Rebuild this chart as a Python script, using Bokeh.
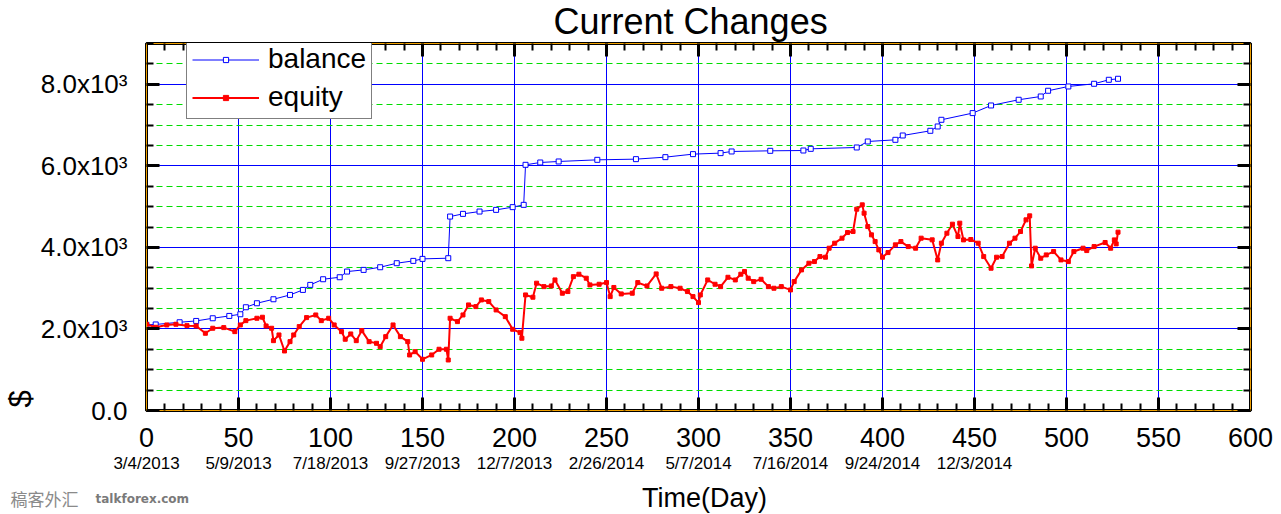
import numpy as np
from bokeh.plotting import figure
from bokeh.layouts import column
from bokeh.models import (ColumnDataSource, FixedTicker, LinearAxis, Range1d, Label,
                          Legend, LegendItem, Title, Div)
from bokeh.embed import file_html
from bokeh.resources import INLINE

# ---------------- data ----------------
balance_day = [0, 5, 18, 27, 36, 45, 51, 54, 60, 69, 78, 85, 89, 96, 105, 109, 118, 127, 136,
               145, 150, 164, 165, 172, 181, 190, 199, 205, 206, 214, 224, 245, 266, 282, 297,
               312, 318, 339, 357, 361, 386, 392, 407, 411, 426, 430, 432, 449, 459, 474, 486,
               490, 501, 515, 523, 528]
balance_val = [2100, 2110, 2164, 2196, 2262, 2319, 2360, 2532, 2630, 2728, 2834, 2957, 3080, 3219,
               3268, 3407, 3448, 3513, 3612, 3669, 3718, 3735, 4756, 4822, 4879, 4920, 4987, 5043,
               6025, 6082, 6107, 6147, 6164, 6213, 6287, 6312, 6352, 6368, 6376, 6417, 6450, 6597,
               6638, 6744, 6859, 6965, 7129, 7293, 7480, 7620, 7701, 7841, 7946, 8012, 8110, 8135]

equity_day = [0, 5, 11, 16, 22, 27, 32, 36, 42, 48, 51, 54, 60, 63, 65, 68, 69, 72, 75, 78, 80,
              83, 87, 92, 95, 99, 102, 106, 108, 111, 114, 117, 121, 125, 127, 130, 134, 138, 142,
              143, 146, 150, 155, 159, 163, 164, 165, 169, 172, 175, 179, 182, 186, 190, 195, 199,
              203, 204, 206, 210, 212, 216, 220, 222, 226, 229, 232, 235, 239, 241, 246, 250, 252,
              254, 258, 264, 267, 272, 277, 280, 285, 290, 294, 297, 300, 301, 305, 309, 312, 316,
              320, 323, 325, 327, 330, 334, 338, 341, 345, 350, 352, 356, 360, 363, 366, 369, 371,
              374, 378, 381, 384, 386, 389, 390, 392, 394, 396, 398, 400, 403, 407, 410, 414, 418,
              421, 427, 430, 432, 435, 438, 441, 442, 444, 448, 452, 455, 459, 462, 465, 469, 472,
              475, 478, 480, 481, 483, 486, 489, 493, 497, 501, 504, 509, 511, 515, 521, 524, 526,
              527, 528]
equity_val = [2115, 2041, 2098, 2115, 2081, 2073, 1894, 2017, 2033, 1934, 2098, 2204, 2262, 2287,
              2073, 2017, 1713, 1853, 1460, 1689, 1853, 2057, 2278, 2343, 2204, 2262, 2098, 1934,
              1747, 1877, 1713, 1959, 1689, 1648, 1566, 1811, 2098, 1811, 1689, 1362, 1443, 1256,
              1362, 1502, 1502, 1239, 2262, 2180, 2343, 2589, 2548, 2712, 2671, 2466, 2302, 1992,
              1910, 1772, 2834, 2778, 3122, 3038, 3054, 3202, 2876, 2917, 3283, 3342, 3244, 3080,
              3096, 3137, 2793, 3017, 2859, 2876, 3137, 3054, 3350, 2998, 3038, 2998, 2917, 2793,
              2646, 2834, 3202, 3096, 3038, 3267, 3202, 3342, 3407, 3244, 3161, 3218, 3038, 2998,
              3038, 2957, 3161, 3448, 3612, 3653, 3775, 3759, 3980, 4103, 4226, 4364, 4389, 4937,
              5043, 4839, 4511, 4307, 4143, 3939, 3759, 3873, 4062, 4143, 4020, 3980, 4226, 4185,
              3693, 4103, 4348, 4569, 4266, 4594, 4184, 4193, 4103, 3775, 3489, 3759, 3775, 4103,
              4226, 4389, 4675, 4773, 3546, 3980, 3734, 3816, 3898, 3693, 3652, 3898, 3980, 3922,
              4020, 4120, 3980, 4184, 4086, 4373]

x_ticks = list(range(0, 601, 50))
x_minor = [v for v in range(0, 601, 10) if v % 50]
y_ticks = [0, 2000, 4000, 6000, 8000]
y_minor = [v for v in range(0, 9001, 500) if v % 2000]
y_tick_labels = ["0.0", "2.0x10\u00b3", "4.0x10\u00b3", "6.0x10\u00b3", "8.0x10\u00b3"]
date_ticks = [0, 50, 100, 150, 200, 250, 300, 350, 400, 450]
date_labels = ["3/4/2013", "5/9/2013", "7/18/2013", "9/27/2013", "12/7/2013",
               "2/26/2014", "5/7/2014", "7/16/2014", "9/24/2014", "12/3/2014"]

FONT = "Liberation Sans"
BLUE = "#0000ff"
RED = "#ff0000"
GREEN = "#00dd00"
ORANGE = "#f0a000"

W = 1281
H_MAIN = 479
H_STRIP = 35
LEFT, RIGHT, TOP, BOTTOM = 146, 31, 43, 69
FH = H_MAIN - TOP - BOTTOM

p = figure(width=W, height=H_MAIN, x_range=Range1d(0, 600), y_range=Range1d(0, 9000),
           output_backend="svg", toolbar_location=None, title=None,
           min_border_left=LEFT, min_border_right=RIGHT,
           min_border_top=TOP, min_border_bottom=BOTTOM)
p.background_fill_color = "white"
p.border_fill_color = "white"
p.outline_line_color = "black"
p.outline_line_width = 3

# grids
p.xgrid.ticker = FixedTicker(ticks=x_ticks)
p.xgrid.grid_line_color = BLUE
p.xgrid.grid_line_width = 1
p.ygrid.ticker = FixedTicker(ticks=y_ticks, minor_ticks=y_minor)
p.ygrid.grid_line_color = BLUE
p.ygrid.grid_line_width = 1
p.ygrid.minor_grid_line_color = GREEN
p.ygrid.minor_grid_line_dash = "6 4"
p.ygrid.minor_grid_line_width = 1

xt = FixedTicker(ticks=x_ticks, minor_ticks=x_minor)
yt = FixedTicker(ticks=y_ticks, minor_ticks=y_minor)

def style_axis(ax):
    ax.axis_line_color = ORANGE
    ax.axis_line_width = 1
    ax.major_tick_in = 13
    ax.major_tick_out = 0
    ax.major_tick_line_width = 3
    ax.major_tick_line_color = "black"
    ax.minor_tick_in = 7
    ax.minor_tick_out = 0
    ax.minor_tick_line_width = 2
    ax.minor_tick_line_color = "black"
    ax.major_label_text_font = FONT
    ax.major_label_text_color = "black"

xa = p.xaxis[0]
xa.ticker = xt
style_axis(xa)
xa.major_label_text_font_size = "27px"
xa.major_label_standoff = 17

ya = p.yaxis[0]
ya.ticker = yt
style_axis(ya)
ya.major_label_text_font_size = "26px"
ya.major_label_standoff = 19
ya.major_label_overrides = {t: s for t, s in zip(y_ticks, y_tick_labels)}

# mirror axes (ticks only, no labels)
top_ax = LinearAxis(ticker=xt)
style_axis(top_ax)
top_ax.major_label_text_font_size = "1px"
top_ax.major_label_standoff = 0
top_ax.major_label_overrides = {t: "" for t in x_ticks}
p.add_layout(top_ax, "above")

right_ax = LinearAxis(ticker=yt)
style_axis(right_ax)
right_ax.major_label_text_font_size = "1px"
right_ax.major_label_standoff = 0
right_ax.major_label_overrides = {t: "" for t in y_ticks}
p.add_layout(right_ax, "right")

date_ax = LinearAxis(ticker=FixedTicker(ticks=date_ticks),
                     major_label_overrides={t: s for t, s in zip(date_ticks, date_labels)})
date_ax.axis_line_color = None
date_ax.major_tick_line_color = None
date_ax.minor_tick_line_color = None
date_ax.major_tick_out = 0
date_ax.major_tick_in = 0
date_ax.major_label_text_font = FONT
date_ax.major_label_text_font_size = "17px"
date_ax.major_label_text_color = "black"
date_ax.major_label_standoff = 4
p.add_layout(date_ax, "below")

# title above the top axis
p.add_layout(Title(text="Current Changes", align="left", offset=553 - LEFT,
                   vertical_align="top", text_font=FONT,
                   text_font_size="36px", text_font_style="normal", text_color="black",
                   standoff=0), "above")
# "$" label on the left, at the bottom end of the axis
p.add_layout(Title(text="$", align="left", offset=3, text_font=FONT,
                   text_font_size="31px", text_font_style="normal", text_color="black",
                   standoff=0), "left")

# series
bsrc = ColumnDataSource(dict(x=balance_day, y=balance_val))
esrc = ColumnDataSource(dict(x=equity_day, y=equity_val))

bl = p.line("x", "y", source=bsrc, line_color=BLUE, line_width=1)
bs = p.scatter("x", "y", source=bsrc, marker="square", size=5, fill_color="white",
               line_color=BLUE, line_width=1)
el = p.line("x", "y", source=esrc, line_color=RED, line_width=2)
es = p.scatter("x", "y", source=esrc, marker="square", size=4, fill_color=RED,
               line_color=RED)

legend = Legend(items=[LegendItem(label="balance", renderers=[bl, bs]),
                       LegendItem(label="equity", renderers=[el, es])],
                location=(40, FH - 76), margin=0, padding=5, spacing=6,
                label_height=30, glyph_height=13, glyph_width=67, label_standoff=9,
                label_text_font=FONT, label_text_font_size="28px", label_text_color="black",
                border_line_color="black", border_line_width=1,
                background_fill_color="white", background_fill_alpha=1.0)
p.add_layout(legend)

# bottom strip: x-axis title and the site watermark
strip = None
try:
    s = figure(width=W, height=H_STRIP, x_range=Range1d(0, W), y_range=Range1d(0, H_STRIP),
               output_backend="svg", toolbar_location=None, title=None,
               x_axis_location=None, y_axis_location=None,
               min_border_left=0, min_border_right=0, min_border_top=0, min_border_bottom=0)
    s.frame_align = False
    s.outline_line_color = None
    s.grid.visible = False
    s.background_fill_color = "white"
    s.border_fill_color = "white"
    s.add_layout(Label(x=704, y=16.5, text="Time(Day)", text_font=FONT, text_font_size="27px",
                       text_align="center", text_baseline="middle", text_color="black"))
    s.add_layout(Label(x=10, y=16, text="稿客外汇", text_font="Noto Sans CJK SC",
                       text_font_size="17px", text_align="left", text_baseline="middle",
                       text_color="#8a8a8a"))
    s.add_layout(Label(x=95, y=16, text="talkforex.com", text_font="DejaVu Sans",
                       text_font_size="12px", text_font_style="bold", text_align="left",
                       text_baseline="middle", text_color="#7a7a7a"))
    strip = s
except Exception:
    html = (
        '<div style="position:relative;width:1281px;height:35px;">'
        '<span style="position:absolute;left:10px;top:9px;font-family:\'Noto Sans CJK SC\';'
        'font-size:17px;color:#8a8a8a;">稿客外汇</span>'
        '<span style="position:absolute;left:95px;top:12px;font-family:\'DejaVu Sans\';'
        'font-size:12px;font-weight:bold;color:#7a7a7a;">talkforex.com</span>'
        '<span style="position:absolute;left:642px;top:3px;font-family:\'Liberation Sans\';'
        'font-size:27px;color:black;">Time(Day)</span></div>')
    strip = Div(text=html, width=W, height=H_STRIP, margin=0)

layout = column(p, strip, spacing=0)
open("out.html", "w").write(file_html(layout, INLINE))
